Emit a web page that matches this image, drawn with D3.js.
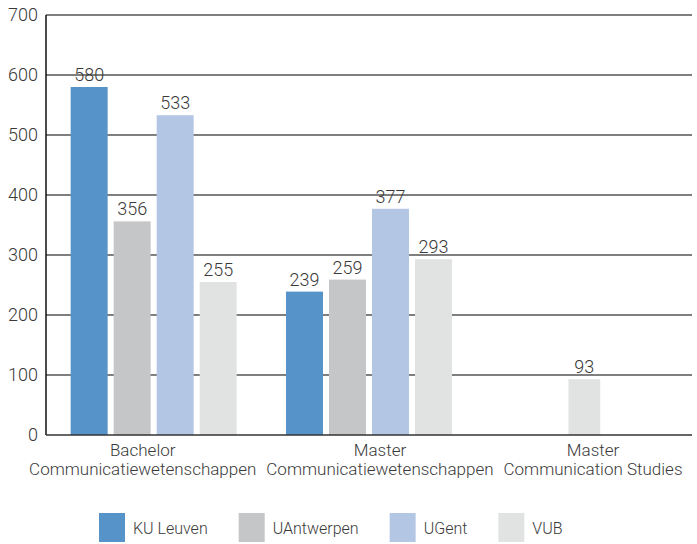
<!DOCTYPE html>
<html>
<head>
<meta charset="utf-8">
<script src="https://cdn.jsdelivr.net/npm/d3@7"></script>
<style>
  body { margin: 0; background: #fff; }
  svg text { font-family: "Roboto Light", Roboto, "Open Sans", sans-serif; font-weight: 300; fill: #3a3a3a; }
</style>
</head>
<body>
<svg id="chart" width="697" height="544"></svg>
<script>
// data
let programmes = ["Bachelor|Communicatiewetenschappen", "Master|Communicatiewetenschappen", "Master|Communication Studies"];
let universities = ["KU Leuven", "UAntwerpen", "UGent", "VUB"];
let kuLeuven = [580, 239, null];
let uAntwerpen = [356, 259, null];
let uGent = [533, 377, null];
let vub = [255, 293, 93];
let yTicks = [0, 100, 200, 300, 400, 500, 600, 700];
let colors = ["#5593c8", "#c5c6c8", "#b3c7e5", "#e1e3e2"];

let seriesValues = [kuLeuven, uAntwerpen, uGent, vub];

const svg = d3.select("#chart");
const plotL = 46, plotR = 692, plotT = 15, plotB = 435;

let x0 = d3.scaleBand().domain(programmes).range([plotL, plotR]).paddingInner(0).paddingOuter(0);
let y = d3.scaleLinear().domain([0, 700]).range([plotB, plotT]);
let color = d3.scaleOrdinal().domain(universities).range(colors);

// gridlines
svg.append("g")
  .selectAll("line")
  .data(yTicks.filter(d => d > 0))
  .enter()
  .append("line")
  .attr("x1", plotL)
  .attr("x2", plotR)
  .attr("y1", d => y(d))
  .attr("y2", d => y(d))
  .attr("stroke", "#555")
  .attr("stroke-width", 1.5);

// y tick labels
svg.append("g")
  .selectAll("text")
  .data(yTicks)
  .enter()
  .append("text")
  .attr("x", plotL - 8)
  .attr("y", d => y(d))
  .attr("dy", "0.35em")
  .attr("text-anchor", "end")
  .style("font-size", "18px")
  .text(d => d);

// bars, grouped per programme; only the universities that offer it
let groupWidth = 166;
programmes.forEach((prog, pi) => {
  let present = universities.filter((u, ui) => seriesValues[ui][pi] != null);
  let step = groupWidth / (4 - 0.14);
  let span = present.length * step - step * 0.14;
  let cx = x0(prog) + x0.bandwidth() / 2;
  let x1 = d3.scaleBand().domain(present).range([cx - span / 2, cx + span / 2]).paddingInner(0.14).paddingOuter(0);

  let rows = present.map(u => ({ uni: u, value: seriesValues[universities.indexOf(u)][pi] }));

  let g = svg.append("g");
  g.selectAll("rect")
    .data(rows)
    .enter()
    .append("rect")
    .attr("x", d => x1(d.uni))
    .attr("width", x1.bandwidth())
    .attr("y", d => y(d.value))
    .attr("height", d => y(0) - y(d.value))
    .attr("fill", d => color(d.uni));

  g.selectAll("text")
    .data(rows)
    .enter()
    .append("text")
    .attr("x", d => x1(d.uni) + x1.bandwidth() / 2)
    .attr("y", d => y(d.value) - 6)
    .attr("text-anchor", "middle")
    .style("font-size", "18px")
    .text(d => d.value);
});

// axes lines
svg.append("line")
  .attr("x1", plotL).attr("x2", plotL)
  .attr("y1", plotT).attr("y2", plotB)
  .attr("stroke", "#111").attr("stroke-width", 1.5);
svg.append("line")
  .attr("x1", plotL).attr("x2", plotR)
  .attr("y1", plotB).attr("y2", plotB)
  .attr("stroke", "#333").attr("stroke-width", 1.5);

// category labels (two lines), pushed apart where they would overlap
let cat = svg.append("g")
  .selectAll("text")
  .data(programmes)
  .enter()
  .append("text")
  .attr("text-anchor", "middle")
  .style("font-size", "17px");
cat.each(function(d) {
  let parts = d.split("|");
  let t = d3.select(this);
  parts.forEach((p, i) => {
    t.append("tspan")
      .attr("y", 456 + i * 19)
      .text(p);
  });
});
let labelBoxes = [];
cat.each(function(d) {
  let w = d3.max(Array.from(this.querySelectorAll("tspan")), s => s.getComputedTextLength());
  labelBoxes.push({ c: x0(d) + x0.bandwidth() / 2, w: w });
});
let minGap = 10;
for (let i = 1; i < labelBoxes.length; i++) {
  let a = labelBoxes[i - 1], b = labelBoxes[i];
  let overlap = (a.c + a.w / 2 + minGap) - (b.c - b.w / 2);
  if (overlap > 0) {
    if (i === 1) { a.c -= overlap / 2; b.c += overlap / 2; }
    else { b.c += overlap; }
  }
}
cat.each(function(d, i) {
  d3.select(this).selectAll("tspan").attr("x", labelBoxes[i].c);
});

// legend
let lx = 99;
let legend = svg.append("g");
universities.forEach((u) => {
  legend.append("rect")
    .attr("x", lx).attr("y", 513)
    .attr("width", 26).attr("height", 29)
    .attr("fill", color(u));
  let t = legend.append("text")
    .attr("x", lx + 34).attr("y", 534)
    .style("font-size", "16px")
    .text(u);
  lx += 34 + t.node().getComputedTextLength() + 31;
});
</script>
</body>
</html>
